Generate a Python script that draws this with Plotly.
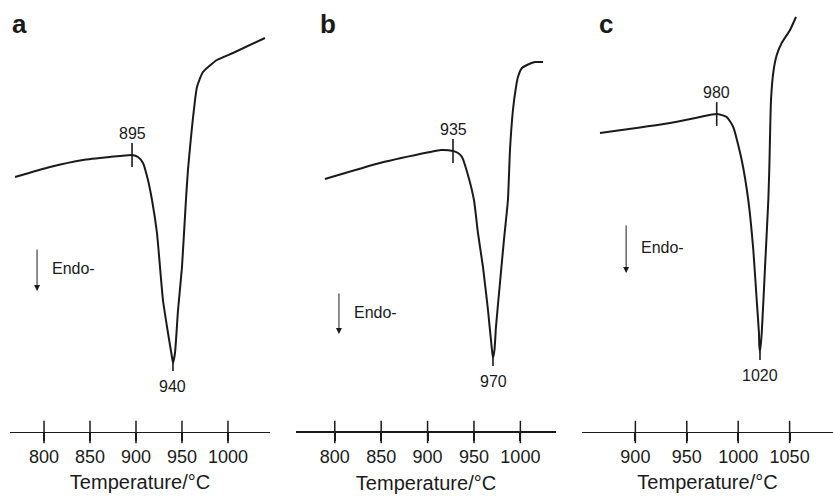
import plotly.graph_objects as go

# ---------------- data (temperature in °C, DTA signal in arbitrary units) ----------------
# Panel a
a_temp = [768.5, 806.5, 842.4, 871.7, 895.7, 902.2, 907.6, 913.0, 917.4, 922.8, 929.3, 934.8,
          939.1, 940.2, 942.4, 945.7, 950.0, 954.3, 956.5, 960.9, 966.3, 972.8, 988.0, 1005.4, 1040.2]
a_signal = [255, 265, 272, 275, 277, 275, 269, 252, 232, 199, 132, 99,
            75, 69, 79, 122, 165, 232, 262, 305, 345, 360, 372, 379, 394]

# Panel b
b_temp = [789.4, 848.7, 902.6, 914.4, 927.4, 932.8, 937.1, 943.5, 950.0, 954.3, 959.7, 965.1,
          969.4, 970.5, 972.1, 973.7, 978.0, 982.3, 986.6, 988.8, 992.0, 995.3, 997.4, 1001.7,
          1007.1, 1015.7, 1024.4]
b_signal = [253, 269, 280, 282, 281, 279, 275, 257, 232, 199, 165, 122,
            82, 74, 82, 105, 149, 192, 232, 282, 322, 345, 355, 364,
            367, 370, 370]

# Panel c
c_temp = [865.6, 933.7, 962.8, 979.1, 988.8, 995.2, 1003.4, 1009.8, 1014.7, 1018.0, 1020.2,
          1020.5, 1021.2, 1022.9, 1026.1, 1029.3, 1030.3, 1031.9, 1034.2, 1037.5, 1042.3, 1050.4, 1056.2]
c_signal = [299, 309, 315, 318, 315, 305, 272, 232, 182, 132, 99,
            87, 80, 99, 165, 232, 265, 332, 360, 377, 389, 402, 415]

# Onset / peak annotations
onset_pos = [895.7, 927.4, 979.1]
onset_sig = [277, 281, 318]
onset_text = ["895", "935", "980"]
peak_pos = [940.2, 970.5, 1021.2]
peak_sig = [69, 74, 80]
peak_text = ["940", "970", "1020"]

# Axis ticks
ticks_a = [800, 850, 900, 950, 1000]
ticks_b = [800, 850, 900, 950, 1000]
ticks_c = [900, 950, 1000, 1050]
panel_letters = ["a", "b", "c"]

# "Endo-" arrows (x, top, bottom)
endo_x = [792.4, 804.5, 891.0]
endo_top = [184, 140, 208]
endo_bottom = [141, 98, 159]

# ---------------- figure ----------------
INK = "#1a1a1a"
FONT = "Liberation Sans, Arial, Helvetica, sans-serif"
W, H = 833, 496


def px(xw):
    return xw / W


panels = [
    dict(t=a_temp, s=a_signal, ticks=ticks_a, rng=[763.0, 1045.7], dom=[px(10), px(270)]),
    dict(t=b_temp, s=b_signal, ticks=ticks_b, rng=[758.2, 1038.4], dom=[px(296), px(556)]),
    dict(t=c_temp, s=c_signal, ticks=ticks_c, rng=[848.1, 1092.2], dom=[px(582), px(833)]),
]
letter_px = [(10, 24), (318, 24), (597, 24)]

fig = go.Figure()
y_lo, y_hi = -(H - 432), 432
axis_pos = -y_lo / H
annotations = []

for i, p in enumerate(panels):
    n = "" if i == 0 else str(i + 1)
    xa, ya = "x" + n, "y" + n
    # curve
    fig.add_trace(go.Scatter(x=p["t"], y=p["s"], mode="lines", xaxis=xa, yaxis=ya,
                             line=dict(color=INK, width=2, shape="spline", smoothing=0.5),
                             hoverinfo="skip", showlegend=False))
    # axis tick crosses (upper part; lower part drawn by axis ticks)
    fig.add_trace(go.Scatter(x=p["ticks"], y=[0] * len(p["ticks"]), mode="markers", xaxis=xa, yaxis=ya,
                             marker=dict(symbol="line-ns-open", size=16, color=INK,
                                         line=dict(color=INK, width=1.5)),
                             hoverinfo="skip", showlegend=False))
    # onset marker
    fig.add_trace(go.Scatter(x=[onset_pos[i]], y=[onset_sig[i]], mode="markers", xaxis=xa, yaxis=ya,
                             marker=dict(symbol="line-ns-open", size=17, color=INK,
                                         line=dict(color=INK, width=1.6)),
                             hoverinfo="skip", showlegend=False))
    # peak marker (small line below the minimum)
    fig.add_trace(go.Scatter(x=[peak_pos[i], peak_pos[i]], y=[peak_sig[i], peak_sig[i] - 8],
                             mode="lines", xaxis=xa, yaxis=ya,
                             line=dict(color=INK, width=1.6), hoverinfo="skip", showlegend=False))
    annotations.append(dict(x=onset_pos[i], y=onset_sig[i] + 22, xref=xa, yref=ya,
                            text=onset_text[i], showarrow=False,
                            font=dict(size=16, color=INK, family=FONT)))
    annotations.append(dict(x=peak_pos[i], y=peak_sig[i] - 23, xref=xa, yref=ya,
                            text=peak_text[i], showarrow=False,
                            font=dict(size=16, color=INK, family=FONT)))
    # Endo- arrow
    annotations.append(dict(x=endo_x[i], y=endo_bottom[i], ax=endo_x[i], ay=endo_top[i],
                            xref=xa, yref=ya, axref=xa, ayref=ya, text="",
                            showarrow=True, arrowhead=2, arrowsize=1.2, arrowwidth=1,
                            arrowcolor=INK))
    scale = (p["rng"][1] - p["rng"][0]) / ((p["dom"][1] - p["dom"][0]) * W)
    annotations.append(dict(x=endo_x[i] + 13 * scale, y=(endo_top[i] + endo_bottom[i]) / 2 + 1,
                            xref=xa, yref=ya, text="Endo-", showarrow=False, xanchor="left",
                            font=dict(size=16, color=INK, family=FONT)))
    # panel letter
    lx, ly = letter_px[i]
    annotations.append(dict(x=px(lx), y=1 - ly / H, xref="paper", yref="paper",
                            text="<b>%s</b>" % panel_letters[i], showarrow=False,
                            xanchor="left", yanchor="middle",
                            font=dict(size=26, color=INK, family=FONT)))

    fig.layout["xaxis" + n] = dict(
        domain=p["dom"], range=p["rng"], anchor="free", position=axis_pos,
        showline=True, linecolor=INK, linewidth=2 if i == 1 else 1.2,
        showgrid=False, zeroline=False,
        tickmode="array", tickvals=p["ticks"], ticks="outside", ticklen=8,
        tickwidth=1.5, tickcolor=INK,
        tickfont=dict(size=18, color=INK, family=FONT),
        title=dict(text="Temperature/°C", font=dict(size=20, color=INK, family=FONT), standoff=9),
        fixedrange=True,
    )
    fig.layout["yaxis" + n] = dict(domain=[0, 1], range=[y_lo, y_hi], visible=False,
                                   anchor=xa, fixedrange=True)

fig.update_layout(
    width=W, height=H, margin=dict(l=0, r=0, t=0, b=0),
    paper_bgcolor="white", plot_bgcolor="white",
    annotations=annotations, showlegend=False,
    font=dict(family=FONT, color=INK),
)

fig.write_html(
    "out.html",
    config={"displayModeBar": False},
    post_script="document.body.style.margin='0';document.documentElement.style.overflow='hidden';",
)
